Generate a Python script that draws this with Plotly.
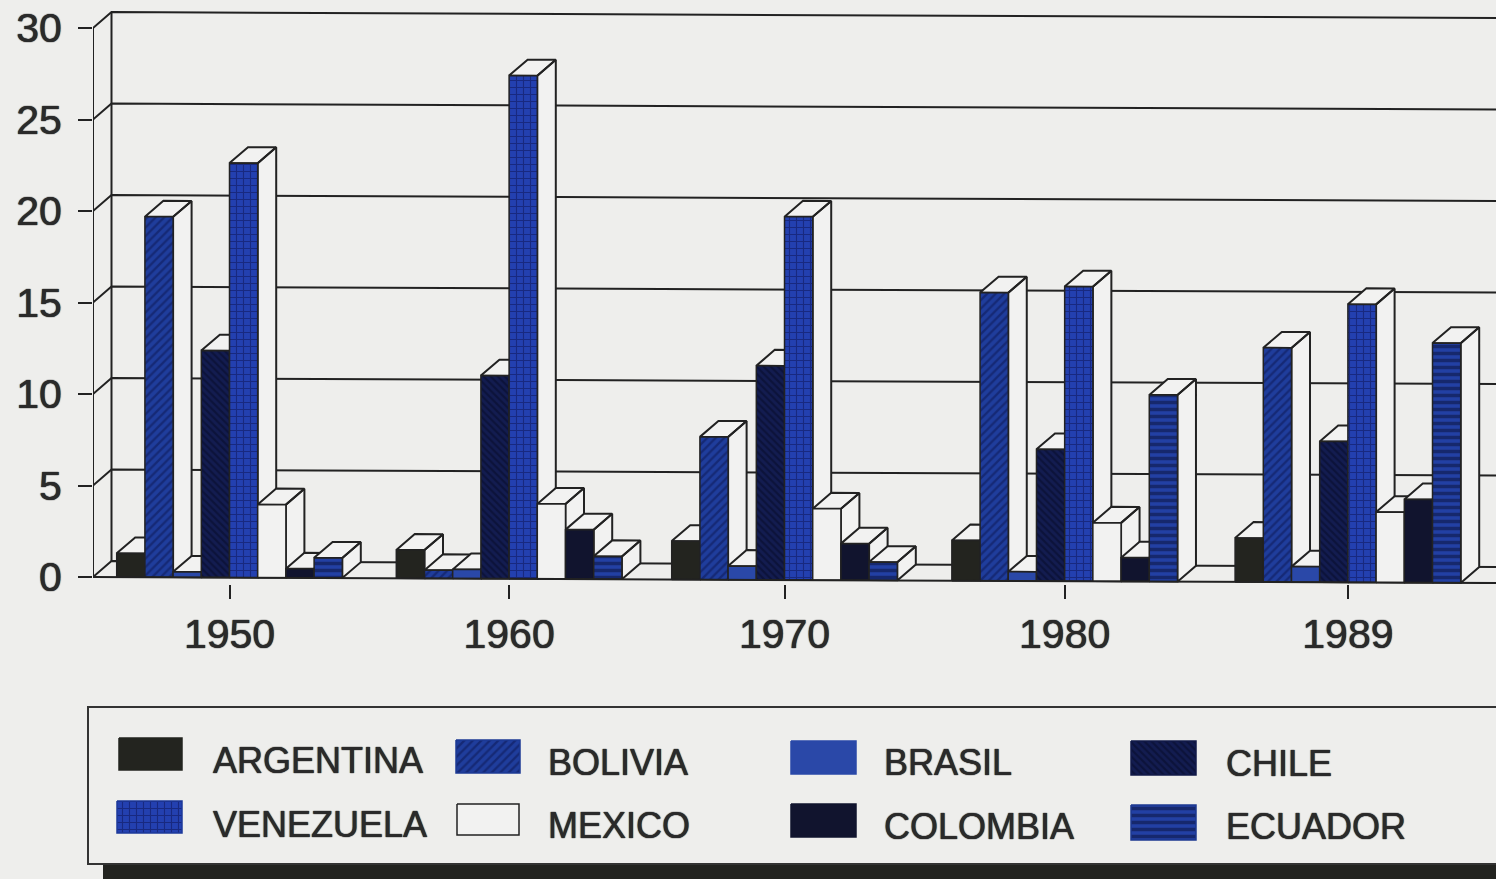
import plotly.graph_objects as go

years = ["1950", "1960", "1970", "1980", "1989"]
argentina = [1.3, 1.55, 2.1, 2.2, 2.4]
bolivia = [19.7, 0.45, 7.8, 15.75, 12.8]
brasil = [0.3, 0.5, 0.75, 0.5, 0.85]
chile = [12.4, 11.1, 11.7, 7.2, 7.7]
venezuela = [22.65, 27.5, 19.85, 16.1, 15.2]
mexico = [4.0, 4.1, 3.9, 3.2, 3.85]
colombia = [0.5, 2.7, 2.0, 1.3, 4.55]
ecuador = [1.1, 1.25, 1.0, 10.2, 13.1]
y_ticks = [0, 5, 10, 15, 20, 25, 30]

W, H = 1496, 879
PX_X0, PX_DX = 229.5, 279.6
PX_Y0, PX_DY = 577.0, 18.3
PLOT_L, PLOT_B = 93, 584
LINE = "#222222"
FACE = "#f2f2f1"
BG = "#eeeeec"
TEXT = "#2a2a2a"
SHADOW = "0 0 1px #2a2a2a, 0 0 1px #2a2a2a"

x_lo = (PLOT_L - PX_X0) / PX_DX
x_hi = (W - PX_X0) / PX_DX
y_lo = (PX_Y0 - PLOT_B) / PX_DY
y_hi = PX_Y0 / PX_DY

# group centres on the horizontal axis (the printed groups are not quite evenly spaced)
group_pos = [0.0, 1.0, 1.985, 2.987, 4.0]

BAR_W = 28.2 / PX_DX
DEPTH_X = 18.5 / PX_DX
DEPTH_Y = 16 / PX_DY
TILT = 0.066


def yy(x, v):
    return v - TILT * (x - x_lo)


styles = [
    ("ARGENTINA", argentina, dict(fillcolor="#23241f")),
    ("BOLIVIA", bolivia, dict(fillcolor="#1d3a94", fillpattern=dict(shape="/", fgcolor="#0c1650", bgcolor="#1f3d9c", size=6, solidity=0.4))),
    ("BRASIL", brasil, dict(fillcolor="#2a48a8")),
    ("CHILE", chile, dict(fillcolor="#121a48", fillpattern=dict(shape="\\", fgcolor="#060a25", bgcolor="#131c50", size=5, solidity=0.45))),
    ("VENEZUELA", venezuela, dict(fillcolor="#1c3899", fillpattern=dict(shape="+", fgcolor="#0d1250", bgcolor="#2340b0", size=7, solidity=0.3))),
    ("MEXICO", mexico, dict(fillcolor=FACE)),
    ("COLOMBIA", colombia, dict(fillcolor="#11142e")),
    ("ECUADOR", ecuador, dict(fillcolor="#1d3890", fillpattern=dict(shape="-", fgcolor="#0a0f35", bgcolor="#2240a4", size=7, solidity=0.5))),
]

fig = go.Figure()
line = dict(color=LINE, width=2)
n = len(styles)

# back wall, floor and gridlines
wx, wy = [], []
xb = x_lo + DEPTH_X
for t in y_ticks:
    wx += [x_lo, xb, x_hi, None]
    wy += [yy(x_lo, t), yy(xb, t + DEPTH_Y), yy(x_hi, t + DEPTH_Y), None]
wx += [xb, xb, None, x_lo, x_lo, None]
wy += [yy(xb, DEPTH_Y), yy(xb, 30 + DEPTH_Y), None, yy(x_lo, 0), yy(x_lo, 30), None]
fig.add_trace(go.Scatter(x=wx, y=wy, mode="lines", line=line, hoverinfo="skip", showlegend=False))

# 3-D bars: painted left to right so that each bar hides the previous side face
for s, (name, vals, fill) in enumerate(styles):
    sx, sy, fx, fy = [], [], [], []
    for pos, v in zip(group_pos, vals):
        a = pos + (s - n / 2) * BAR_W
        b = a + BAR_W
        c, d = a + DEPTH_X, b + DEPTH_X
        # side face and top face
        sx += [b, d, d, b, b, None, a, c, d, b, a, None]
        sy += [yy(b, 0), yy(d, DEPTH_Y), yy(d, v + DEPTH_Y), yy(b, v), yy(b, 0), None,
               yy(a, v), yy(c, v + DEPTH_Y), yy(d, v + DEPTH_Y), yy(b, v), yy(a, v), None]
        fx += [a, b, b, a, a, None]
        fy += [yy(a, 0), yy(b, 0), yy(b, v), yy(a, v), yy(a, 0), None]
    fig.add_trace(go.Scatter(x=sx, y=sy, mode="lines", fill="toself", fillcolor=FACE, line=line,
                             hoverinfo="skip", showlegend=False))
    front_line = dict(color=LINE, width=1.5)
    fig.add_trace(go.Scatter(x=fx, y=fy, mode="lines", fill="toself", line=front_line, name=name,
                             showlegend=False, **fill))

# front baseline, running out to the longer tick at zero
x_tick0 = (74 - PX_X0) / PX_DX
fig.add_trace(go.Scatter(x=[x_tick0, x_hi], y=[0, yy(x_hi, 0)], mode="lines", line=line,
                         cliponaxis=False, hoverinfo="skip", showlegend=False))

# legend, drawn on a full-page pixel overlay
legend_items = [
    (0, 119, 738, 182, 770, 211, 760),
    (1, 456, 740, 520, 773, 546, 762),
    (2, 791, 741, 856, 774, 882, 762),
    (3, 1131, 741, 1196, 775, 1224, 763),
    (4, 117, 801, 182, 833, 211, 824),
    (5, 457, 804, 519, 835, 546, 825),
    (6, 791, 804, 856, 837, 882, 826),
    (7, 1131, 805, 1196, 840, 1224, 826),
]
annotations = []
for idx, x0, y0, x1, y1, tx, ty in legend_items:
    name, _, fill = styles[idx]
    fig.add_trace(go.Scatter(x=[x0, x1, x1, x0, x0], y=[y0, y0, y1, y1, y0], mode="lines", fill="toself",
                             line=dict(color=LINE if idx == 5 else fill["fillcolor"], width=1.5),
                             xaxis="x2", yaxis="y2", hoverinfo="skip", showlegend=False, **fill))
    annotations.append(dict(text=name, x=tx / W, y=1 - ty / H, xref="paper", yref="paper",
                            xanchor="left", yanchor="middle", showarrow=False,
                            font=dict(family="Liberation Sans", size=36, color=TEXT, shadow=SHADOW)))

shapes = [
    dict(type="rect", xref="paper", yref="paper", x0=88 / W, x1=1.01, y0=1 - 864 / H, y1=1 - 707 / H,
         line=dict(color="#333333", width=2), fillcolor="rgba(0,0,0,0)", layer="below"),
    dict(type="rect", xref="paper", yref="paper", x0=103 / W, x1=1, y0=0, y1=1 - 865 / H,
         line=dict(width=0), fillcolor="#22231f", layer="below"),
]

tick_font = dict(family="Liberation Sans", size=41, color=TEXT, shadow=SHADOW)
fig.update_layout(
    width=W, height=H, autosize=False,
    margin=dict(l=0, r=0, t=0, b=0),
    paper_bgcolor=BG, plot_bgcolor="rgba(0,0,0,0)",
    showlegend=False,
    font=dict(family="Liberation Sans", color=TEXT),
    annotations=annotations, shapes=shapes,
    xaxis=dict(domain=[PLOT_L / W, 1], range=[x_lo, x_hi], tickmode="array", tickvals=group_pos,
               ticktext=years, ticks="outside", ticklen=14, tickwidth=1.5, tickcolor=LINE, automargin=False,
               showgrid=False, zeroline=False, showline=False, ticklabelstandoff=0, tickfont=tick_font),
    yaxis=dict(domain=[1 - PLOT_B / H, 1], range=[y_lo, y_hi], tickmode="array", tickvals=y_ticks,
               ticks="outside", ticklen=14, tickwidth=1.5, tickcolor=LINE, automargin=False,
               showgrid=False, zeroline=False, showline=False, ticklabelstandoff=8, tickfont=tick_font),
    xaxis2=dict(domain=[0, 1], range=[0, W], visible=False, anchor="y2", automargin=False),
    yaxis2=dict(domain=[0, 1], range=[H, 0], visible=False, anchor="x2", automargin=False),
)

fig.write_html("out.html", config={"displayModeBar": False},
               post_script="document.body.style.margin='0';document.body.style.overflow='hidden';")
